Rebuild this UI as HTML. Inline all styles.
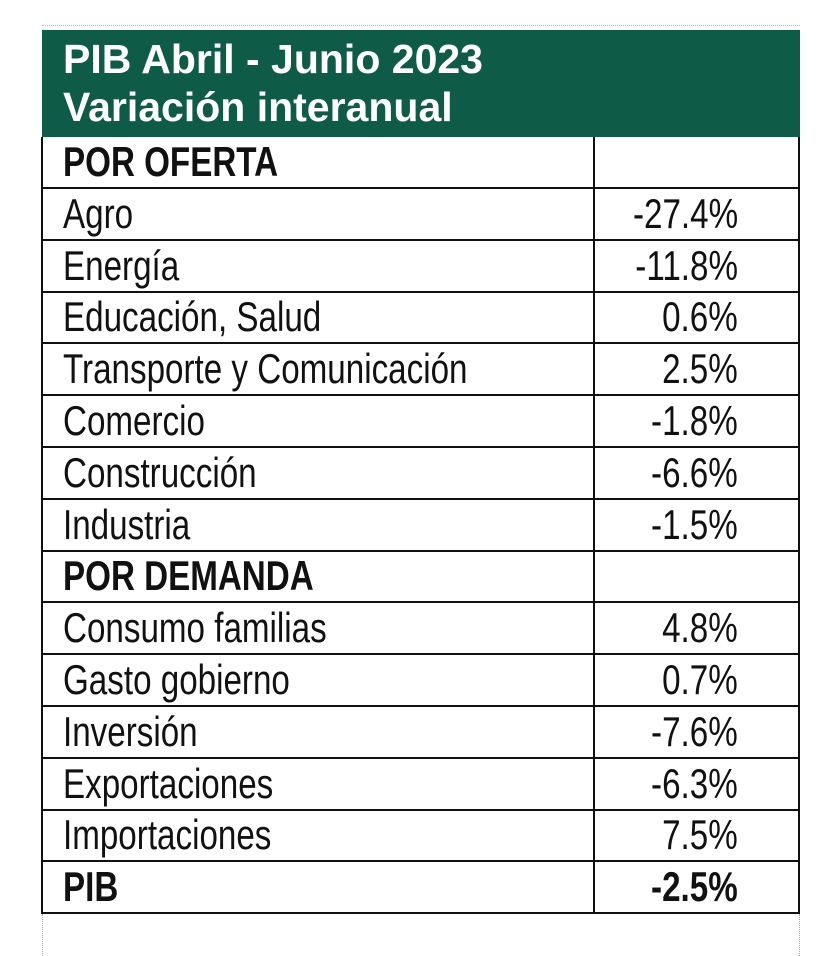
<!DOCTYPE html>
<html><head><style>
body{margin:0;width:840px;height:956px;background:#fff;position:relative;overflow:hidden;font-family:"Liberation Sans Narrow","Liberation Sans",sans-serif;}
.hd{position:absolute;left:42px;top:30px;width:758px;height:107px;background:#0e5c47;}
.t{position:absolute;left:63px;color:#fff;font-weight:bold;font-size:41px;white-space:nowrap;transform:scaleX(1.0);transform-origin:left;}
.row{position:absolute;left:42px;width:758px;height:52px;border-bottom:2px solid #111;box-sizing:border-box;}
.l{position:absolute;left:21px;top:1px;font-size:42px;color:#111;white-space:nowrap;transform:scaleX(0.79);transform-origin:left;}
.v{position:absolute;right:62px;top:1px;font-size:42px;color:#111;white-space:nowrap;transform:scaleX(0.79);transform-origin:right;}
.b{font-weight:bold;}
.vl{position:absolute;top:137px;height:777px;border-left:2px solid #111;}
.dot{position:absolute;border-left:1px dotted #aaa;}
</style></head><body>
<div style="position:absolute;left:42px;top:25px;width:758px;border-top:1px dotted #bbb"></div>
<div class="hd"></div>
<div class="t" style="top:36px">PIB Abril - Junio 2023</div>
<div class="t" style="top:84px">Variación interanual</div>
<div class="vl" style="left:41px"></div>
<div class="vl" style="left:593px"></div>
<div class="vl" style="left:798px"></div>
<div class="dot" style="left:42px;top:914px;height:42px"></div>
<div class="dot" style="left:799px;top:914px;height:42px"></div>

<div class="row" style="top:137px"><span class="l b">POR OFERTA</span></div>
<div class="row" style="top:189px"><span class="l">Agro</span><span class="v">-27.4%</span></div>
<div class="row" style="top:241px"><span class="l">Energía</span><span class="v">-11.8%</span></div>
<div class="row" style="top:292px"><span class="l">Educación, Salud</span><span class="v">0.6%</span></div>
<div class="row" style="top:344px"><span class="l">Transporte y Comunicación</span><span class="v">2.5%</span></div>
<div class="row" style="top:396px"><span class="l">Comercio</span><span class="v">-1.8%</span></div>
<div class="row" style="top:448px"><span class="l">Construcción</span><span class="v">-6.6%</span></div>
<div class="row" style="top:500px"><span class="l">Industria</span><span class="v">-1.5%</span></div>
<div class="row" style="top:551px"><span class="l b">POR DEMANDA</span></div>
<div class="row" style="top:603px"><span class="l">Consumo familias</span><span class="v">4.8%</span></div>
<div class="row" style="top:655px"><span class="l">Gasto gobierno</span><span class="v">0.7%</span></div>
<div class="row" style="top:707px"><span class="l">Inversión</span><span class="v">-7.6%</span></div>
<div class="row" style="top:759px"><span class="l">Exportaciones</span><span class="v">-6.3%</span></div>
<div class="row" style="top:810px"><span class="l">Importaciones</span><span class="v">7.5%</span></div>
<div class="row" style="top:862px"><span class="l b">PIB</span><span class="v b">-2.5%</span></div>
</body></html>
